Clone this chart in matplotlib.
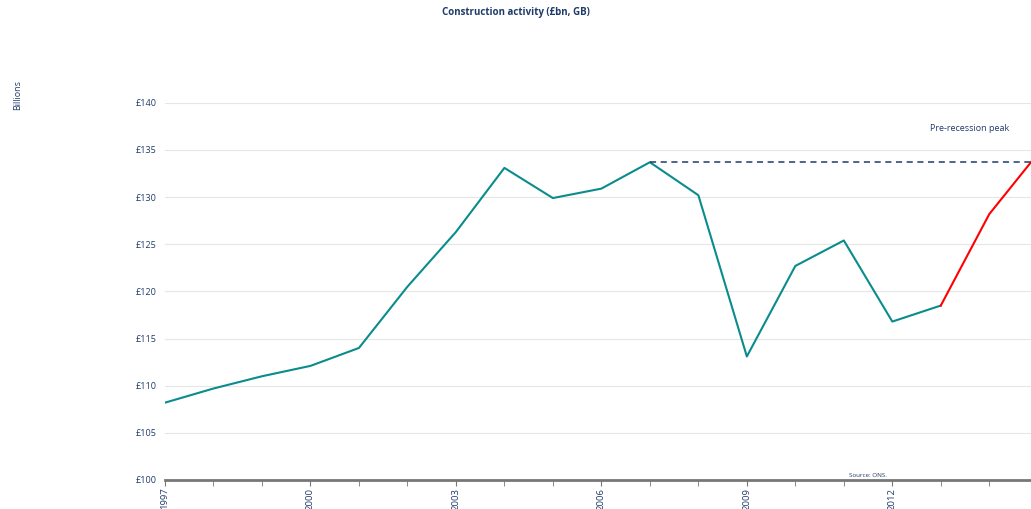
import matplotlib.pyplot as plt

years = list(range(1997, 2016))
values = [108.2, 109.7, 111.0, 112.1, 114.0, 120.5, 126.3, 133.1, 129.9, 130.9,
          133.7, 130.2, 113.1, 122.7, 125.4, 116.8, 118.5, 128.2, 134.6]
split_year = 2013
peak_year = 2007
peak_value = 133.7
tick_years = [1997, 2000, 2003, 2006, 2009, 2012]
y_ticks = [100, 105, 110, 115, 120, 125, 130, 135, 140]

navy = '#1f3b6a'
plt.rcParams['font.family'] = ['Open Sans', 'DejaVu Sans']

fig = plt.figure(figsize=(10.31, 5.09), dpi=100)
ax = fig.add_axes([0.16, 0.057, 0.84, 0.741])

i = years.index(split_year)
ax.plot(years[:i + 1], values[:i + 1], color='#0a8c8c', lw=1.5)
ax.plot(years[i:], values[i:], color='#ff0000', lw=1.5)
ax.plot([peak_year, 2015], [peak_value, peak_value], color=navy, lw=1.1, ls=(0, (4, 3)))

ax.set_yticks(y_ticks)
ax.set_yticklabels(['£%d' % v for v in y_ticks], color=navy, fontsize=6.5)
ax.set_xticks(years, minor=True)
ax.set_xticks(tick_years)
ax.set_xticklabels([str(y) for y in tick_years], rotation=90, color=navy, fontsize=6.8, va='top')
ax.set_xlim(1997, 2014.86)
ax.set_ylim(100, 140)
ax.tick_params(axis='y', length=0, pad=6)
ax.tick_params(axis='x', which='both', length=4, color='#777777', direction='out', pad=1.5)
ax.grid(axis='y', color='#e6e6e6', lw=0.8)
for s in ['top', 'right', 'left']:
    ax.spines[s].set_visible(False)
ax.spines['bottom'].set_color('#777777')
ax.spines['bottom'].set_linewidth(2)

fig.text(0.5, 0.976, 'Construction activity (£bn, GB)', ha='center', va='center',
         color=navy, fontsize=7, fontweight='bold')
fig.text(0.017, 0.813, 'Billions', rotation=90, ha='center', va='center', color=navy, fontsize=6.5)
ax.text(2013.6, 137.3, 'Pre-recession peak', ha='center', va='center', color=navy, fontsize=6.5)
ax.text(2011.5, 100.2, 'Source: ONS.', ha='center', va='bottom', color=navy, fontsize=4.5)

fig.savefig('out.png', dpi=100)
